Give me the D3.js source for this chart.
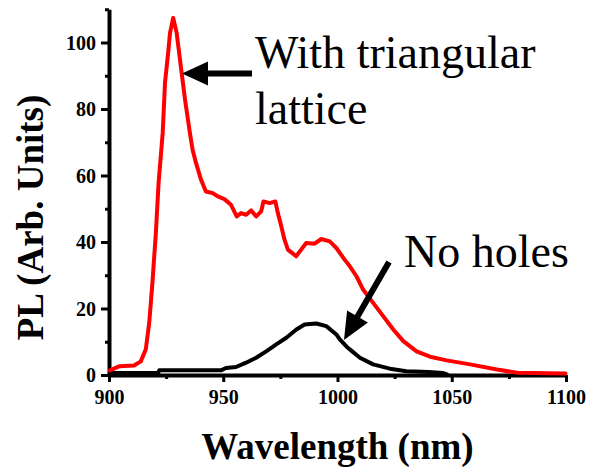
<!DOCTYPE html>
<html>
<head>
<meta charset="utf-8">
<script src="https://cdn.jsdelivr.net/npm/d3@7"></script>
<style>
  html, body { margin: 0; padding: 0; background: #fff; }
  svg { display: block; }
</style>
</head>
<body>
<svg id="chart" width="590" height="467"></svg>
<script>
// ---- data ----
const redWavelength = [900.4, 904.4, 911, 913.9, 916.1, 917.6, 919, 920.5, 921.7, 923.5, 924.5, 926, 926.7, 928.1, 929.6, 931.8, 933.3, 935.4, 936.6, 938.1, 940.3, 942.4, 945.4, 947.6, 950.5, 953.4, 955.9, 957.8, 960, 962.2, 964.4, 966.6, 967.6, 970.3, 972.8, 973.9, 975.4, 976.8, 978.3, 981.9, 984.1, 986.3, 990, 992.9, 996.6, 999.5, 1003.1, 1005.4, 1008.3, 1011.2, 1015.6, 1020, 1024.4, 1028.8, 1034.6, 1040.5, 1047.8, 1058, 1069.8, 1078.6, 1099.8];
const redPL = [1.4, 2.6, 2.85, 4.1, 7.7, 15.7, 27.7, 42.7, 57.7, 72.8, 87.8, 97.7, 102.9, 107.4, 102.9, 90.8, 82.7, 72.8, 67.7, 63.7, 58.7, 55.2, 54.7, 53.7, 52.9, 51.2, 47.7, 48.7, 48.2, 49.5, 47.7, 49.2, 52.2, 51.7, 52.2, 48.7, 44.7, 40.7, 37.7, 35.7, 37.7, 39.7, 39.5, 40.9, 40.2, 38.2, 34.7, 32.7, 29.7, 25.7, 21.7, 17.7, 13.7, 10.2, 7.1, 5.5, 4.4, 3.2, 1.65, 0.66, 0.45];

const blackWavelength = [900.7, 921.5, 922, 949, 951.2, 955.6, 960, 964.4, 968.8, 973.2, 977.6, 982, 985.6, 990.7, 995.1, 999.5, 1001, 1003.9, 1005.4, 1009.8, 1015.6, 1022.9, 1030.2, 1040, 1046, 1048];
const blackPL = [0.6, 0.6, 1.4, 1.4, 2.1, 2.4, 3.7, 5.2, 7.1, 9.2, 11.2, 13.7, 15.2, 15.5, 14.7, 12.2, 10.7, 8.6, 7.7, 5.2, 3.2, 1.9, 1.1, 0.9, 0.6, 0.2];

const xMajorTicks = [900, 950, 1000, 1050, 1100];
const xMinorTicks = [925, 975, 1025, 1075];
const yMajorTicks = [0, 20, 40, 60, 80, 100];
const yMinorTicks = [10, 30, 50, 70, 90, 110];

const xTitle = "Wavelength (nm)";
const yTitle = "PL (Arb. Units)";
const label1a = "With triangular";
const label1b = "lattice";
const label2 = "No holes";

// ---- drawing ----
const svg = d3.select("#chart");
const serif = "'Liberation Serif', 'Times New Roman', Times, serif";

const x = d3.scaleLinear().domain([900, 1100]).range([109, 566]);
const y = d3.scaleLinear().domain([0, 110]).range([375, 9.25]);

// minor ticks
const xMinorAxis = d3.axisBottom(x).tickValues(xMinorTicks).tickSize(4).tickFormat("");
const yMinorAxis = d3.axisLeft(y).tickValues(yMinorTicks).tickSize(4).tickFormat("");
const gxm = svg.append("g").attr("transform", `translate(0,${y(0)})`).call(xMinorAxis);
const gym = svg.append("g").attr("transform", `translate(${x(900)},0)`).call(yMinorAxis);
[gxm, gym].forEach(g => {
  g.select(".domain").remove();
  g.selectAll(".tick line").attr("stroke", "#000").attr("stroke-width", 3);
});

// major axes
const xAxis = d3.axisBottom(x).tickValues(xMajorTicks).tickSize(7).tickSizeOuter(0).tickPadding(6).tickFormat(d3.format("d"));
const yAxis = d3.axisLeft(y).tickValues(yMajorTicks).tickSize(8).tickSizeOuter(0).tickPadding(5).tickFormat(d3.format("d"));

const gx = svg.append("g").attr("transform", `translate(0,${y(0)})`).call(xAxis);
const gy = svg.append("g").attr("transform", `translate(${x(900)},0)`).call(yAxis);

[gx, gy].forEach(g => {
  g.select(".domain").attr("stroke", "#000").attr("stroke-width", 4);
  g.selectAll(".tick line").attr("stroke", "#000").attr("stroke-width", 3);
  g.selectAll(".tick text")
    .attr("fill", "#000")
    .style("font-family", serif)
    .style("font-weight", "bold")
    .style("font-size", "20px");
});
gy.selectAll(".tick text").attr("dy", "0.33em");
gx.selectAll(".tick text").attr("dy", "0.78em");

// lines
const line = d3.line().x(d => x(d[0])).y(d => y(d[1]));
const redData = redWavelength.map((w, i) => [w, redPL[i]]);
const blackData = blackWavelength.map((w, i) => [w, blackPL[i]]);

svg.append("path").datum(blackData)
  .attr("d", line).attr("fill", "none").attr("stroke", "#000")
  .attr("stroke-width", 4).attr("stroke-linejoin", "round").attr("stroke-linecap", "round");
svg.append("path").datum(redData)
  .attr("d", line).attr("fill", "none").attr("stroke", "#ff0000")
  .attr("stroke-width", 4).attr("stroke-linejoin", "round").attr("stroke-linecap", "round");

// axis titles
svg.append("text")
  .attr("x", (x(900) + x(1100)) / 2).attr("y", 459)
  .attr("text-anchor", "middle")
  .style("font-family", serif).style("font-weight", "bold").style("font-size", "37px")
  .text(xTitle);

svg.append("text")
  .attr("transform", "translate(43,217.5) rotate(-90)")
  .attr("text-anchor", "middle")
  .style("font-family", serif).style("font-weight", "bold").style("font-size", "37px")
  .text(yTitle);

// annotations
function arrow(x1, y1, x2, y2, headLen, headHalf, width) {
  const dx = x2 - x1, dy = y2 - y1, L = Math.hypot(dx, dy);
  const ux = dx / L, uy = dy / L, px = -uy, py = ux;
  const bx = x2 - ux * headLen, by = y2 - uy * headLen;
  svg.append("line").attr("x1", x1).attr("y1", y1).attr("x2", bx + ux * 2).attr("y2", by + uy * 2)
    .attr("stroke", "#000").attr("stroke-width", width);
  svg.append("path")
    .attr("d", `M${x2},${y2}L${bx + px * headHalf},${by + py * headHalf}L${bx - px * headHalf},${by - py * headHalf}Z`)
    .attr("fill", "#000");
}
arrow(252, 73.5, 182, 73.5, 26, 12, 6);
arrow(389, 262, 344, 340, 27, 12, 6);

const annoStyle = t => t.style("font-family", serif).style("font-size", "46px").attr("fill", "#000");
svg.append("text").attr("x", 255).attr("y", 68).text(label1a).call(annoStyle);
svg.append("text").attr("x", 255).attr("y", 124).text(label1b).call(annoStyle);
svg.append("text").attr("x", 404).attr("y", 266.5).text(label2).call(annoStyle);
</script>
</body>
</html>
